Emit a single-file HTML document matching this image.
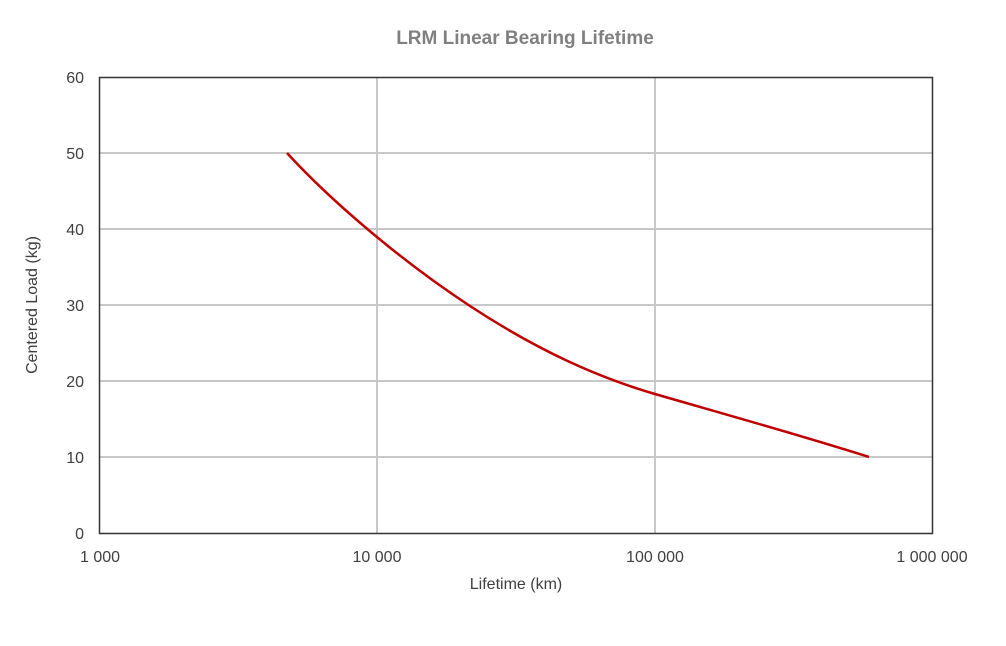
<!DOCTYPE html>
<html><head><meta charset="utf-8"><style>
body{margin:0;background:#fff;}
svg text{font-family:"Liberation Sans",Arial,sans-serif;}
</style></head><body>
<svg width="1006" height="641" xmlns="http://www.w3.org/2000/svg">
<rect width="1006" height="641" fill="#fff"/>
<text x="525" y="44" text-anchor="middle" font-size="19" font-weight="bold" fill="#808080">LRM Linear Bearing Lifetime</text>
<g stroke="#c8c8c8" stroke-width="2">
<line x1="99" y1="153" x2="932" y2="153"/>
<line x1="99" y1="229" x2="932" y2="229"/>
<line x1="99" y1="305" x2="932" y2="305"/>
<line x1="99" y1="381" x2="932" y2="381"/>
<line x1="99" y1="457" x2="932" y2="457"/>
<line x1="377" y1="77" x2="377" y2="533"/>
<line x1="655" y1="77" x2="655" y2="533"/>
</g>
<rect x="99.5" y="77.5" width="833" height="456" fill="none" stroke="#333" stroke-width="1.5"/>
<path d="M287,153 C330,200 400,260 470,306 S600,378 655,394 S800,435 869,457" fill="none" stroke="#c00000" stroke-width="2.5"/>
<g font-size="16" fill="#404040" text-anchor="end">
<text x="84" y="83">60</text>
<text x="84" y="159">50</text>
<text x="84" y="235">40</text>
<text x="84" y="311">30</text>
<text x="84" y="387">20</text>
<text x="84" y="463">10</text>
<text x="84" y="539">0</text>
</g>
<g font-size="16" fill="#404040" text-anchor="middle">
<text x="100" y="562">1 000</text>
<text x="377" y="562">10 000</text>
<text x="655" y="562">100 000</text>
<text x="932" y="562">1 000 000</text>
</g>
<text x="516" y="589" text-anchor="middle" font-size="16" fill="#404040">Lifetime (km)</text>
<text transform="translate(37,305) rotate(-90)" text-anchor="middle" font-size="16" fill="#404040">Centered Load (kg)</text>
</svg>
</body></html>
